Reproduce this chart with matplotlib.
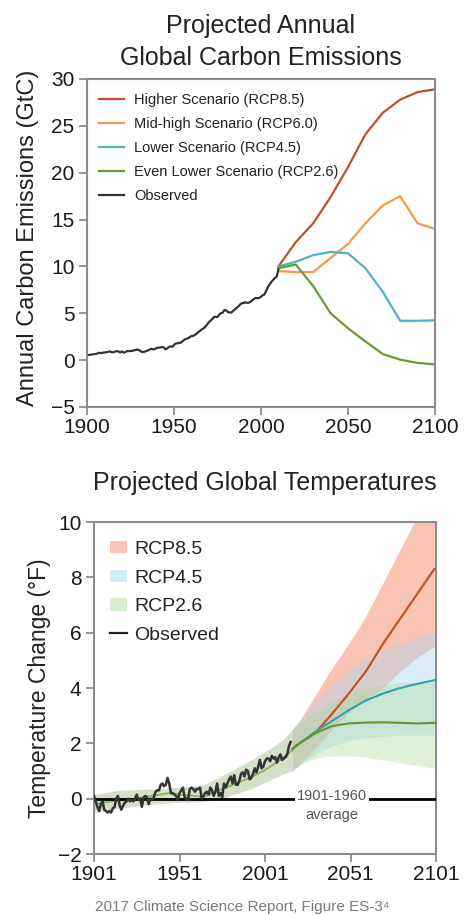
import matplotlib
matplotlib.use("Agg")
import matplotlib.pyplot as plt
from matplotlib.lines import Line2D
from matplotlib.patches import Patch

plt.rcParams['font.family'] = ['Liberation Sans', 'DejaVu Sans']

# ---------------- Top chart data (GtC) ----------------
obs_em_years = list(range(1900, 2011))
obs_em = [0.53, 0.55, 0.57, 0.62, 0.62, 0.66, 0.71, 0.78, 0.75, 0.79,
          0.82, 0.84, 0.88, 0.94, 0.85, 0.84, 0.90, 0.96, 0.94, 0.81,
          0.93, 0.80, 0.85, 0.97, 0.96, 0.98, 0.98, 1.06, 1.07, 1.15,
          1.05, 0.94, 0.85, 0.89, 0.97, 1.03, 1.13, 1.21, 1.14, 1.19,
          1.30, 1.33, 1.34, 1.39, 1.38, 1.16, 1.24, 1.39, 1.47, 1.42,
          1.63, 1.77, 1.80, 1.84, 1.87, 2.04, 2.18, 2.27, 2.33, 2.45,
          2.57, 2.58, 2.69, 2.83, 3.00, 3.13, 3.29, 3.39, 3.57, 3.78,
          4.05, 4.21, 4.38, 4.61, 4.62, 4.60, 4.86, 5.02, 5.07, 5.36,
          5.30, 5.14, 5.09, 5.08, 5.26, 5.42, 5.58, 5.73, 5.94, 6.07,
          6.10, 6.18, 6.11, 6.13, 6.22, 6.39, 6.54, 6.63, 6.60, 6.65,
          6.77, 6.93, 7.00, 7.42, 7.81, 8.09, 8.37, 8.57, 8.78, 8.90,
          9.70]
scen_em_years = [2010, 2020, 2030, 2040, 2050, 2060, 2070, 2080, 2090, 2100]
em_rcp85 = [10.0, 12.6, 14.6, 17.4, 20.6, 24.1, 26.4, 27.8, 28.6, 28.9]
em_rcp60 = [9.5, 9.4, 9.4, 10.9, 12.4, 14.6, 16.5, 17.5, 14.6, 14.0]
em_rcp45 = [10.0, 10.5, 11.2, 11.55, 11.4, 9.8, 7.3, 4.2, 4.2, 4.25]
em_rcp26 = [9.8, 10.2, 7.9, 5.0, 3.4, 2.0, 0.65, 0.05, -0.3, -0.45]
em_labels = ['Higher Scenario (RCP8.5)', 'Mid-high Scenario (RCP6.0)',
             'Lower Scenario (RCP4.5)', 'Even Lower Scenario (RCP2.6)', 'Observed']
em_xticks = [1900, 1950, 2000, 2050, 2100]
em_yticks = [-5, 0, 5, 10, 15, 20, 25, 30]

# ---------------- Bottom chart data (deg F) ----------------
obs_t_years = list(range(1901, 2017))
obs_t = [0.10, -0.10, -0.30, -0.45, -0.20, -0.10, -0.40, -0.45, -0.50, -0.45,
         -0.50, -0.35, -0.30, 0.00, 0.10, -0.25, -0.40, -0.25, -0.15, -0.10,
         0.00, -0.10, -0.05, -0.10, 0.00, 0.15, -0.05, 0.00, -0.30, 0.05,
         0.10, 0.05, -0.20, 0.00, -0.05, 0.05, 0.25, 0.30, 0.30, 0.50,
         0.55, 0.45, 0.50, 0.75, 0.55, 0.20, 0.20, 0.15, 0.10, -0.05,
         0.20, 0.30, 0.40, 0.05, 0.00, -0.05, 0.35, 0.40, 0.35, 0.25,
         0.35, 0.35, 0.40, 0.00, 0.10, 0.20, 0.25, 0.15, 0.40, 0.30,
         0.10, 0.25, 0.55, 0.10, 0.20, 0.05, 0.55, 0.40, 0.55, 0.70,
         0.80, 0.55, 0.85, 0.50, 0.50, 0.65, 0.90, 0.95, 0.80, 1.05,
         1.00, 0.70, 0.75, 0.90, 1.10, 0.95, 1.15, 1.40, 1.10, 1.15,
         1.35, 1.45, 1.45, 1.35, 1.55, 1.45, 1.50, 1.30, 1.50, 1.60,
         1.40, 1.45, 1.50, 1.60, 1.90, 2.05]
hist_mean_years = [1901, 1910, 1920, 1930, 1940, 1945, 1950, 1960, 1965, 1970,
                   1980, 1990, 2000, 2010, 2017]
hist_mean = [-0.2, -0.1, -0.05, 0.05, 0.15, 0.2, 0.15, 0.1, 0.05, 0.2,
             0.45, 0.7, 1.0, 1.4, 1.75]
hist_band_years = [1901, 1915, 1935, 1953, 1965, 1975, 1993, 2005, 2012, 2017]
hist_band_low = [-0.5, -0.35, -0.2, -0.12, -0.1, 0.0, 0.36, 0.7, 0.9, 1.0]
hist_band_high = [0.15, 0.3, 0.35, 0.42, 0.5, 0.8, 1.4, 1.85, 2.16, 2.5]
fut_years = [2017, 2020, 2030, 2040, 2050, 2060, 2070, 2080, 2090, 2100]
t85_low = [1.0, 1.15, 1.8, 2.5, 3.1, 3.6, 4.0, 4.6, 5.1, 5.5]
t85_high = [2.5, 2.7, 3.7, 4.7, 5.6, 6.6, 7.8, 9.0, 10.2, 11.4]
t45_low = [1.0, 1.15, 1.6, 1.9, 2.1, 2.2, 2.25, 2.3, 2.3, 2.3]
t45_high = [2.5, 2.75, 3.5, 4.1, 4.6, 5.1, 5.35, 5.6, 5.8, 6.05]
t26_low = [1.0, 1.2, 1.45, 1.55, 1.55, 1.5, 1.4, 1.3, 1.2, 1.1]
t26_high = [2.5, 2.7, 3.1, 3.5, 3.8, 4.0, 4.1, 4.2, 4.2, 4.2]
line_years = [2017, 2020, 2030, 2040, 2050, 2060, 2070, 2080, 2090, 2100]
t85_mean = [1.8, 1.95, 2.35, 3.05, 3.8, 4.6, 5.6, 6.5, 7.4, 8.3]
t45_mean = [1.8, 1.95, 2.4, 2.8, 3.2, 3.55, 3.8, 4.0, 4.15, 4.28]
t26_mean = [1.8, 1.95, 2.35, 2.62, 2.72, 2.75, 2.76, 2.74, 2.72, 2.74]
t_labels = ['RCP8.5', 'RCP4.5', 'RCP2.6', 'Observed']
t_xticks = [1901, 1951, 2001, 2051, 2101]
t_yticks = [-2, 0, 2, 4, 6, 8, 10]
baseline = 0.0

# ---------------- Styles ----------------
C85 = '#bf5127'
C60 = '#f39a4c'
C45 = '#4db5c2'
C26 = '#6b9a33'
COBS = '#333333'
SPINE = '#8c8c8c'

fig = plt.figure(figsize=(4.66, 9.15), dpi=100)

def style_axes(ax):
    for s in ax.spines.values():
        s.set_color(SPINE)
        s.set_linewidth(1.5)
    ax.tick_params(axis='both', direction='out', length=6, width=1.3,
                   color=SPINE, labelsize=15, labelcolor='#1a1a1a', pad=2)
    ax.tick_params(axis='y', pad=3)

# ---- Top axes ----
ax1 = fig.add_axes([87/466, 1 - 407/915, 348/466, 328/915])
ax1.plot(scen_em_years, em_rcp85, color=C85, lw=1.6, label=em_labels[0])
ax1.plot(scen_em_years, em_rcp60, color=C60, lw=1.6, label=em_labels[1])
ax1.plot(scen_em_years, em_rcp45, color=C45, lw=1.6, label=em_labels[2])
ax1.plot(scen_em_years, em_rcp26, color=C26, lw=1.6, label=em_labels[3])
ax1.plot(obs_em_years, obs_em, color=COBS, lw=1.6, label=em_labels[4])
ax1.set_xlim(1900, 2100)
ax1.set_ylim(-5, 30)
ax1.set_xticks(em_xticks)
ax1.set_yticks(em_yticks)
style_axes(ax1)
leg1 = ax1.legend(loc='upper left', bbox_to_anchor=(0.025, 0.965), frameon=False,
                  fontsize=10.5, handlelength=1.75, handletextpad=0.7, labelspacing=0.68,
                  borderaxespad=0, borderpad=0.2)
for t in leg1.get_texts():
    t.set_color('#222222')

fig.text(261/466, 1 - 42/915, 'Projected Annual\nGlobal Carbon Emissions',
         ha='center', va='center', fontsize=18, color='#222222', linespacing=1.38)
fig.text(28/466, 1 - 238/915, 'Annual Carbon Emissions (GtC)', rotation=90,
         ha='center', va='center', fontsize=17, color='#222222')

# ---- Bottom axes ----
ax2 = fig.add_axes([94/466, 1 - 854/915, 342/466, 332/915])
PINK = '#f9c4b4'
BLUE = (170/255, 215/255, 240/255)
GREEN = (170/255, 215/255, 150/255)
HIST = '#d5e0cb'
A_BLUE = 0.42
A_GREEN = 0.36
ax2.fill_between(hist_band_years, hist_band_low, hist_band_high,
                 color=HIST, lw=0, zorder=1)
ax2.fill_between(fut_years, t85_low, t85_high, color=PINK, lw=0, zorder=1)
ax2.fill_between(fut_years, t45_low, t45_high,
                 color=BLUE, alpha=A_BLUE, lw=0, zorder=2)
ax2.fill_between(fut_years, t26_low, t26_high,
                 color=GREEN, alpha=A_GREEN, lw=0, zorder=3)
ax2.plot(hist_mean_years, hist_mean, color='#8cb860', lw=1.5, zorder=4)
ax2.axhline(baseline, color='black', lw=2.0, zorder=5)
ax2.plot(line_years, t85_mean, color='#c0501f', lw=1.5, zorder=6)
ax2.plot(line_years, t45_mean, color='#2fa3a8', lw=1.5, zorder=6)
ax2.plot(line_years, t26_mean, color='#5f9a2a', lw=1.5, zorder=6)
ax2.plot(obs_t_years, obs_t, color=COBS, lw=1.8, zorder=7)
ax2.text(2040, baseline + 0.08, '1901-1960', ha='center', va='center', fontsize=10.5,
         color='#555555', zorder=8,
         bbox=dict(boxstyle='square,pad=0.12', fc='white', ec='none'))
ax2.text(2040, baseline - 0.58, 'average', ha='center', va='center', fontsize=10.5,
         color='#555555', zorder=8)
ax2.set_xlim(1901, 2101)
ax2.set_ylim(-2, 10)
ax2.set_xticks(t_xticks)
ax2.set_yticks(t_yticks)
style_axes(ax2)
handles = [Patch(facecolor=PINK, edgecolor='none'),
           Patch(facecolor=BLUE, alpha=A_BLUE + 0.08, edgecolor='none'),
           Patch(facecolor=GREEN, alpha=A_GREEN + 0.09, edgecolor='none'),
           Line2D([0], [0], color='#222222', lw=1.6)]
leg2 = ax2.legend(handles, t_labels, loc='upper left', bbox_to_anchor=(0.035, 0.955),
                  frameon=False, fontsize=14, handlelength=0.9, handleheight=0.6,
                  handletextpad=0.35, labelspacing=0.6, borderaxespad=0, borderpad=0.2)
for t in leg2.get_texts():
    t.set_color('#222222')

fig.text(265/466, 1 - 483/915, 'Projected Global Temperatures', ha='center', va='center',
         fontsize=18, color='#222222')
fig.text(40/466, 1 - 688/915, 'Temperature Change (°F)', rotation=90,
         ha='center', va='center', fontsize=16.5, color='#222222')
fig.text(242/466, 1 - 907/915, '2017 Climate Science Report, Figure ES-3\u2074',
         ha='center', va='center', fontsize=11, color='#7a7a7a')

fig.savefig('out.png', dpi=100)
